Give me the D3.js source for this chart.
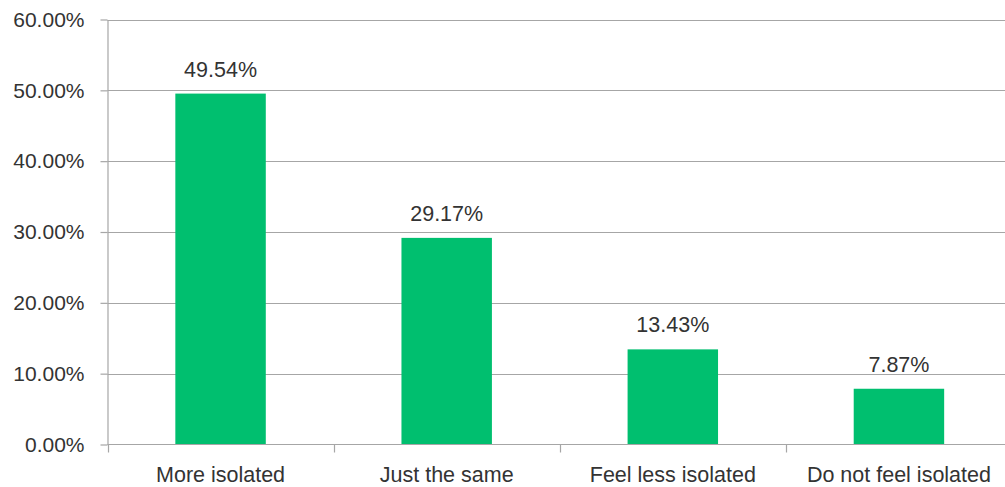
<!DOCTYPE html>
<html>
<head>
<meta charset="utf-8">
<script src="https://cdn.jsdelivr.net/npm/d3@7"></script>
<style>
  html, body { margin: 0; padding: 0; background: #fff; overflow: hidden; }
  svg text { font-family: "Liberation Sans", Arial, sans-serif; fill: #333; }
</style>
</head>
<body>
<svg id="chart" width="1005" height="487"></svg>
<script>
// Survey responses: share of respondents per answer
const categories = ["More isolated", "Just the same", "Feel less isolated", "Do not feel isolated"];
const values = [49.54, 29.17, 13.43, 7.87];
const yTicks = [0, 10, 20, 30, 40, 50, 60];

const svg = d3.select("#chart");
const plotLeft = 107.5, plotRight = 1012, plotTop = 19.5, plotBottom = 444.5;

const x = d3.scaleBand()
  .domain(categories)
  .range([plotLeft, plotRight])
  .paddingInner(0.6)
  .paddingOuter(0.3);

const y = d3.scaleLinear().domain([0, 60]).range([plotBottom, plotTop]);

const grid = "#a6a6a6";

// horizontal gridlines
svg.append("g")
  .selectAll("line")
  .data(yTicks.filter(d => d > 0))
  .join("line")
  .attr("x1", plotLeft).attr("x2", plotRight)
  .attr("y1", d => Math.round(y(d)) + 0.5).attr("y2", d => Math.round(y(d)) + 0.5)
  .attr("stroke", grid).attr("stroke-width", 1.2);

// bars
svg.append("g")
  .selectAll("rect")
  .data(values)
  .join("rect")
  .attr("x", (d, i) => x(categories[i]))
  .attr("width", x.bandwidth())
  .attr("y", d => y(d))
  .attr("height", d => plotBottom - y(d))
  .attr("fill", "#00bf6f");

// value labels
svg.append("g")
  .selectAll("text")
  .data(values)
  .join("text")
  .attr("x", (d, i) => x(categories[i]) + x.bandwidth() / 2)
  .attr("y", d => y(d) - 17)
  .attr("text-anchor", "middle")
  .style("font-size", "21.5px")
  .text(d => d.toFixed(2) + "%");

// y axis
const yAxis = d3.axisLeft(y)
  .tickValues(yTicks)
  .tickFormat(d => d.toFixed(2) + "%")
  .tickSize(7)
  .tickPadding(16)
  .tickSizeOuter(0);
const gy = svg.append("g").attr("transform", `translate(${plotLeft},0)`).call(yAxis);
gy.select(".domain").attr("stroke", grid).attr("stroke-width", 1.2);
gy.selectAll(".tick line").attr("stroke", grid).attr("stroke-width", 1.2);
gy.selectAll(".tick text").style("font-size", "21px").attr("fill", "#333");

// x axis with ticks between categories
const xAxisG = svg.append("g").attr("transform", `translate(0,${plotBottom})`);
xAxisG.append("line")
  .attr("x1", plotLeft).attr("x2", plotRight)
  .attr("stroke", grid).attr("stroke-width", 1.2);
const step = x.step();
const boundaries = d3.range(categories.length + 1).map(i => plotLeft + i * step);
xAxisG.selectAll("line.tk")
  .data(boundaries)
  .join("line")
  .attr("class", "tk")
  .attr("x1", d => Math.round(d) + 0.5).attr("x2", d => Math.round(d) + 0.5)
  .attr("y1", 0).attr("y2", 8)
  .attr("stroke", grid).attr("stroke-width", 1.2);
xAxisG.selectAll("text")
  .data(categories)
  .join("text")
  .attr("x", d => x(d) + x.bandwidth() / 2)
  .attr("y", 37.5)
  .attr("text-anchor", "middle")
  .style("font-size", "21.5px")
  .text(d => d);
</script>
</body>
</html>
